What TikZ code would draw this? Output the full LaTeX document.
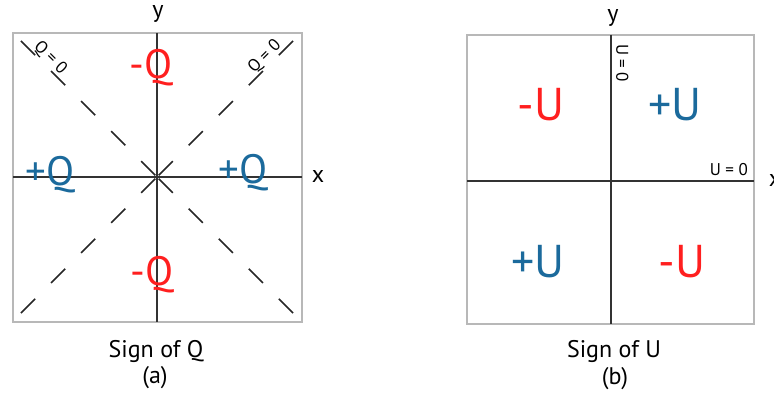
\documentclass[tikz,border=0pt]{standalone}
\usepackage{fontspec}
\setmainfont{PT Sans}
\definecolor{qblue}{HTML}{1B6A9C}
\definecolor{qred}{HTML}{FF1F1F}
\definecolor{boxgray}{HTML}{B8B8B8}
\definecolor{axisgray}{HTML}{333333}
\begin{document}
\begin{tikzpicture}[x=1pt,y=1pt,
  frame/.style={draw=boxgray,line width=2pt},
  axisline/.style={draw=axisgray,line width=1.3pt},
  diag/.style={draw=black!85,line width=1.6pt,dash pattern=on 20pt off 22.5pt},
  big/.style={font=\fontsize{41}{41}\selectfont,anchor=base,inner sep=0pt},
  bigU/.style={font=\fontsize{46}{46}\selectfont,anchor=base,inner sep=0pt},
  small/.style={font=\fontsize{17}{17}\selectfont,inner sep=1pt},
  lab/.style={font=\fontsize{24}{24}\selectfont,anchor=base,inner sep=0pt},
  plus/.style={text=qblue},
  minus/.style={text=qred}]
\useasboundingbox (0,0) rectangle (774,-396);
% ---------- panel (a)
\coordinate (aTL) at (13,-33);
\coordinate (aBR) at (302,-322);
\coordinate (aO) at (157,-177);
\coordinate (aL) at (13,-177);
\coordinate (aR) at (302,-177);
\coordinate (aT) at (157,-33);
\coordinate (aB) at (157,-322);
\coordinate (cUL) at (21,-41);
\coordinate (cUR) at (293,-41);
\coordinate (cLL) at (21,-313);
\coordinate (cLR) at (293,-313);
\draw[frame] (aTL) rectangle (aBR);
\draw[axisline] (aL) -- (aR);
\draw[axisline] (aT) -- (aB);
\draw[diag] (cUL) -- (aO);
\draw[diag] (cUR) -- (aO);
\draw[diag] (cLL) -- (aO);
\draw[diag] (cLR) -- (aO);
\node[small,rotate=-45,anchor=south] (qzl) at (44,-64) {Q = 0};
\node[small,rotate=45,anchor=south] (qzr) at (271,-63) {Q = 0};
\node[big,minus] (qt) at (151,-78) {-Q};
\node[big,minus] (qb) at (152,-285) {-Q};
\node[big,plus] (ql) at (50,-185) {+Q};
\node[big,plus] (qr) at (243,-183) {+Q};
\node[lab] (ay) at (158,-18) {y};
\node[lab] (ax) at (318,-182) {x};
\node[lab] (acap) at (156,-357) {Sign of Q};
\node[lab] (aa) at (155,-383) {(a)};
% ---------- panel (b)
\coordinate (bTL) at (467,-35);
\coordinate (bBR) at (754,-324);
\coordinate (bL) at (467,-181);
\coordinate (bR) at (754,-181);
\coordinate (bT) at (611,-35);
\coordinate (bB) at (611,-324);
\draw[frame] (bTL) rectangle (bBR);
\draw[axisline] (bL) -- (bR);
\draw[axisline] (bT) -- (bB);
\node[small,rotate=-90,anchor=south west] (uzv) at (615,-43) {U = 0};
\node[small,anchor=base east] (uzh) at (749,-175) {U = 0};
\node[bigU,minus] (utl) at (541,-121) {-U};
\node[bigU,plus] (utr) at (675,-121) {+U};
\node[bigU,plus] (ubl) at (538,-277) {+U};
\node[bigU,minus] (ubr) at (682,-277) {-U};
\node[lab] (by) at (613,-22) {y};
\node[lab] (bx) at (775,-186) {x};
\node[lab] (bcap) at (614,-357) {Sign of U};
\node[lab] (bb) at (615,-384) {(b)};
\end{tikzpicture}
\end{document}
